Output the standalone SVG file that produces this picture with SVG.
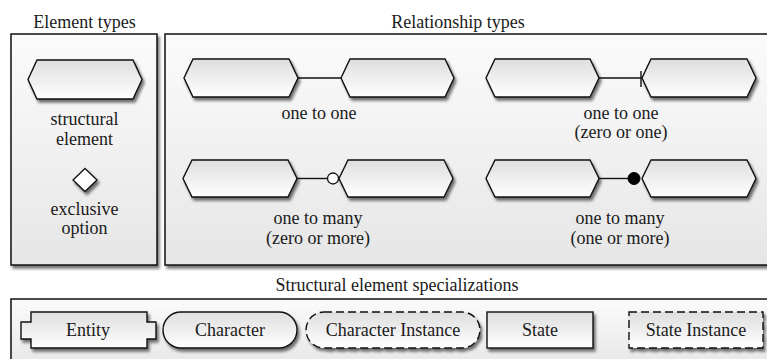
<svg xmlns="http://www.w3.org/2000/svg" width="767" height="359" viewBox="0 0 767 359">
  <defs>
    <linearGradient id="panelFill" x1="0" y1="0" x2="0" y2="1">
      <stop offset="0" stop-color="#fbfbfb"/>
      <stop offset="1" stop-color="#e6e6e6"/>
    </linearGradient>
    <linearGradient id="shapeFill" x1="0" y1="0" x2="0" y2="1">
      <stop offset="0" stop-color="#dedede"/>
      <stop offset="1" stop-color="#ffffff"/>
    </linearGradient>
    <filter id="shadow" x="-10%" y="-10%" width="130%" height="140%">
      <feGaussianBlur in="SourceAlpha" stdDeviation="1.6"/>
      <feOffset dx="2" dy="2.5" result="b"/>
      <feComponentTransfer><feFuncA type="linear" slope="0.55"/></feComponentTransfer>
      <feMerge><feMergeNode/><feMergeNode in="SourceGraphic"/></feMerge>
    </filter>
  </defs>
  <style>
    .panel { fill: url(#panelFill); stroke: #111; stroke-width: 1.5; filter: url(#shadow); }
    .shape { fill: url(#shapeFill); stroke: #111; stroke-width: 1.4; filter: url(#shadow); }
    .dashed { stroke-dasharray: 8 4; }
    .conn { stroke: #111; stroke-width: 1.4; fill: none; }
    text { font-family: 'Liberation Serif', 'DejaVu Serif', serif; font-size: 18px; fill: #1a1a1a; text-anchor: middle; }
  </style>

  <rect width="767" height="359" fill="#ffffff"/>

  <!-- section titles -->
  <text x="84.5" y="28">Element types</text>
  <text x="458" y="28">Relationship types</text>
  <text x="397" y="291">Structural element specializations</text>

  <!-- panels -->
  <rect class="panel" x="11" y="34" width="146" height="231"/>
  <rect class="panel" x="165" y="34" width="612" height="231"/>
  <rect class="panel" x="11" y="299" width="766" height="70"/>

  <!-- element types -->
  <g id="structural-element">
    <path class="shape" d="M37,60 L133,60 L142,79.5 L133,99 L37,99 L28,79.5 Z"/>
    <text x="84.5" y="125">structural</text>
    <text x="84.5" y="145">element</text>
  </g>
  <g id="exclusive-option">
    <path d="M85,168.5 L97,180 L85,191.5 L73,180 Z" fill="#fff" stroke="#111" stroke-width="1.3" filter="url(#shadow)"/>
    <text x="84.5" y="215">exclusive</text>
    <text x="84.5" y="234">option</text>
  </g>

  <!-- relationship type examples -->
  <g id="one-to-one-a">
    <path class="shape" d="M193,59 L289,59 L298,78 L289,97 L193,97 L184,78 Z"/>
  </g>
  <g id="one-to-one-b">
    <path class="shape" d="M350,59 L445,59 L454,78 L445,97 L350,97 L341,78 Z"/>
  </g>
  <g id="zero-or-one-a">
    <path class="shape" d="M495,59 L590,59 L599,78 L590,97 L495,97 L486,78 Z"/>
  </g>
  <g id="zero-or-one-b">
    <path class="shape" d="M651,59 L747,59 L756,78 L747,97 L651,97 L642,78 Z"/>
  </g>
  <g id="zero-or-more-a">
    <path class="shape" d="M192,160 L288,160 L297,178.5 L288,197 L192,197 L183,178.5 Z"/>
  </g>
  <g id="zero-or-more-b">
    <path class="shape" d="M348,160 L444,160 L453,178.5 L444,197 L348,197 L339,178.5 Z"/>
  </g>
  <g id="one-or-more-a">
    <path class="shape" d="M495,160 L590,160 L599,178.5 L590,197 L495,197 L486,178.5 Z"/>
  </g>
  <g id="one-or-more-b">
    <path class="shape" d="M651,160 L747,160 L756,178.5 L747,197 L651,197 L642,178.5 Z"/>
  </g>

  <!-- connectors -->
  <g id="connectors">
    <line class="conn" x1="298" y1="78" x2="341" y2="78"/>
    <line class="conn" x1="599" y1="78" x2="642" y2="78"/>
    <line class="conn" x1="641" y1="71" x2="641" y2="87"/>
    <line class="conn" x1="297" y1="178.5" x2="327.5" y2="178.5"/>
    <circle cx="333" cy="178.5" r="5.5" fill="#fff" stroke="#111" stroke-width="1.3"/>
    <line class="conn" x1="599" y1="178.5" x2="628" y2="178.5"/>
    <circle cx="634" cy="178.5" r="6" fill="#000" stroke="#000" stroke-width="1"/>
  </g>

  <!-- relationship labels -->
  <text x="319" y="119">one to one</text>
  <text x="621" y="119">one to one</text>
  <text x="621" y="138">(zero or one)</text>
  <text x="318" y="224">one to many</text>
  <text x="318" y="244">(zero or more)</text>
  <text x="620" y="224">one to many</text>
  <text x="620" y="244">(one or more)</text>

  <!-- structural element specializations -->
  <g id="entity">
    <path class="shape" d="M31,312 L147,312 L147,322 L156,322 L156,339 L147,339 L147,348 L31,348 L31,339 L21,339 L21,322 L31,322 Z"/>
    <text x="88" y="336">Entity</text>
  </g>
  <g id="character">
    <rect class="shape" x="163" y="312" width="134" height="36" rx="18" ry="18"/>
    <text x="230" y="336">Character</text>
  </g>
  <g id="character-instance">
    <rect class="shape dashed" x="306" y="312" width="174" height="36" rx="18" ry="18"/>
    <text x="393" y="336">Character Instance</text>
  </g>
  <g id="state">
    <rect class="shape" x="487" y="312" width="106" height="36"/>
    <text x="540" y="336">State</text>
  </g>
  <g id="state-instance">
    <rect class="shape dashed" x="629" y="312" width="134" height="36"/>
    <text x="696" y="336">State Instance</text>
  </g>
</svg>
